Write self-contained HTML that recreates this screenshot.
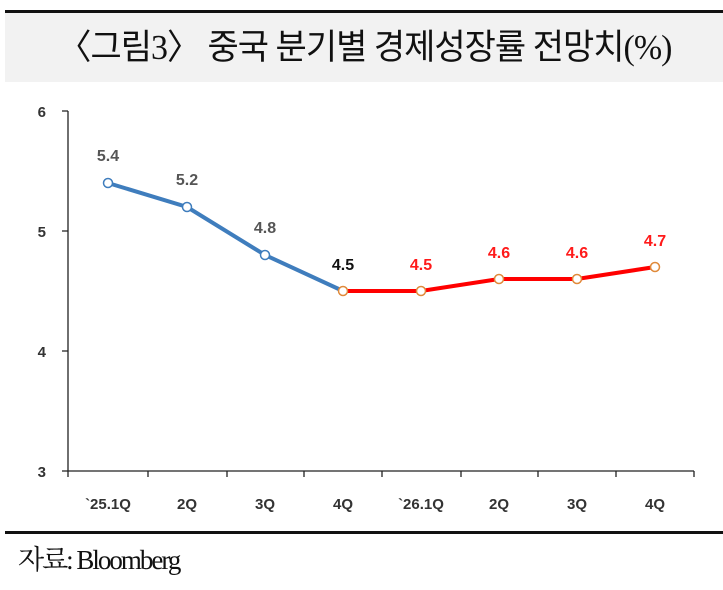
<!DOCTYPE html>
<html><head><meta charset="utf-8"><style>
body{margin:0;background:#fff;width:723px;height:590px;overflow:hidden;position:relative;font-family:"Liberation Sans","Noto Sans CJK KR",sans-serif}
.top{position:absolute;left:5px;right:0;top:10px;height:3px;background:#111}
.band{position:absolute;left:5px;right:0;top:13px;height:69px;background:#f2f2f2;text-align:center;font-family:"Liberation Serif","Noto Sans CJK KR",serif;font-size:35px;line-height:69px;color:#111;letter-spacing:-1px}
.band span{display:inline-block;transform:scaleX(0.97)}
.bot{position:absolute;left:5px;right:0;top:531px;height:3px;background:#111}
.src{position:absolute;left:18px;top:538px;font-family:"Liberation Serif","Noto Serif CJK SC",serif;font-size:27px;letter-spacing:-2px;color:#111}
</style></head><body>
<div class="top"></div>
<div class="band"><span>〈그림3〉 중국 분기별 경제성장률 전망치(%)</span></div>
<svg width="723" height="590" style="position:absolute;left:0;top:0" font-family="Liberation Sans, sans-serif" font-weight="bold" font-size="15">
<g stroke="#222" stroke-width="1.3" fill="none">
<path d="M68 111V471H694"/>
<path d="M62 111H68M62 231H68M62 351H68M62 471H68"/>
<path d="M148 471v6M227 471v6M304 471v6M382 471v6M461 471v6M538 471v6M616 471v6M694 471v6M68 471v6"/>
</g>
<g fill="#333" text-anchor="end"><text x="46" y="117">6</text><text x="46" y="237">5</text><text x="46" y="357">4</text><text x="46" y="477">3</text></g>
<g fill="#333" text-anchor="middle" font-size="15">
<text x="108" y="509">`25.1Q</text><text x="187" y="509">2Q</text><text x="265" y="509">3Q</text><text x="343" y="509">4Q</text>
<text x="421" y="509">`26.1Q</text><text x="499" y="509">2Q</text><text x="577" y="509">3Q</text><text x="655" y="509">4Q</text></g>
<polyline points="108,183 187,207 265,255 343,291" fill="none" stroke="#3f7dbd" stroke-width="4"/>
<polyline points="343,291 421,291 499,279 577,279 655,267" fill="none" stroke="#ff0000" stroke-width="4"/>
<g fill="#fff" stroke="#3f7dbd" stroke-width="1.5"><circle cx="108" cy="183" r="4.5"/><circle cx="187" cy="207" r="4.5"/><circle cx="265" cy="255" r="4.5"/></g>
<g fill="#fff" stroke="#e08a3a" stroke-width="1.5"><circle cx="343" cy="291" r="4.5"/><circle cx="421" cy="291" r="4.5"/><circle cx="499" cy="279" r="4.5"/><circle cx="577" cy="279" r="4.5"/><circle cx="655" cy="267" r="4.5"/></g>
<g text-anchor="middle" fill="#555" font-size="16"><text x="108" y="161">5.4</text><text x="187" y="185">5.2</text><text x="265" y="233">4.8</text><text x="343" y="270" fill="#111">4.5</text></g>
<g text-anchor="middle" fill="#ff1a1a" font-size="16"><text x="421" y="270">4.5</text><text x="499" y="258">4.6</text><text x="577" y="258">4.6</text><text x="655" y="246">4.7</text></g>
</svg>
<div class="bot"></div>
<div class="src">자료: Bloomberg</div>
</body></html>
